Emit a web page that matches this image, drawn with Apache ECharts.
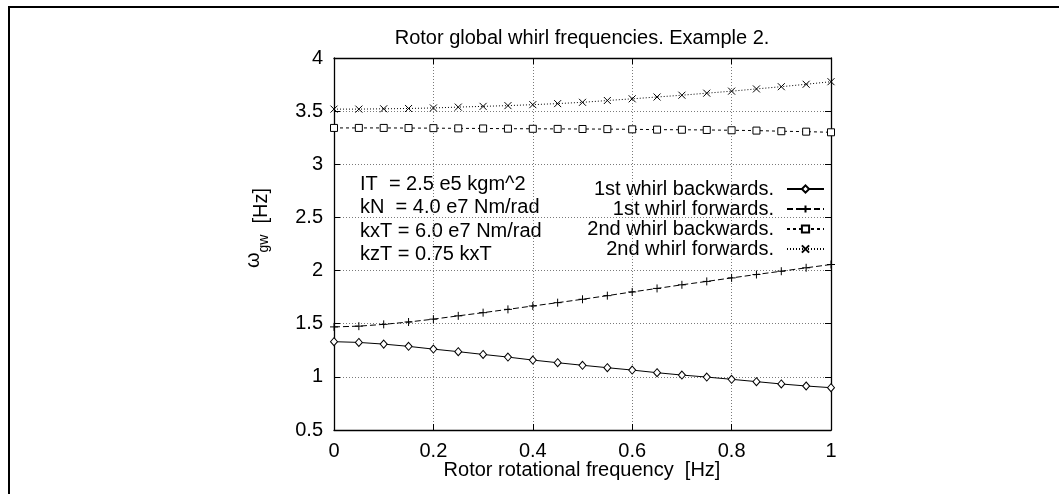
<!DOCTYPE html>
<html>
<head>
<meta charset="utf-8">
<script src="https://cdn.jsdelivr.net/npm/echarts@6/dist/echarts.min.js"></script>
<style>
  html, body { margin: 0; padding: 0; background: #fff; }
  #chart { width: 1059px; height: 494px; }
</style>
</head>
<body>
<div id="chart"></div>
<script>
// Rotor rotational frequency [Hz]
const speeds = [0, 0.05, 0.1, 0.15, 0.2, 0.25, 0.3, 0.35, 0.4, 0.45, 0.5,
                0.55, 0.6, 0.65, 0.7, 0.75, 0.8, 0.85, 0.9, 0.95, 1];

// Global whirl frequencies [Hz]
const firstBackward  = [1.331, 1.324, 1.308, 1.287, 1.261, 1.237, 1.211, 1.186, 1.158, 1.133, 1.109,
                        1.086, 1.064, 1.039, 1.017, 0.998, 0.977, 0.955, 0.933, 0.914, 0.898];
const firstForward   = [1.470, 1.477, 1.494, 1.516, 1.543, 1.574, 1.604, 1.635, 1.667, 1.698, 1.730,
                        1.764, 1.799, 1.832, 1.866, 1.898, 1.931, 1.963, 1.994, 2.026, 2.057];
const secondBackward = [3.342, 3.342, 3.342, 3.341, 3.340, 3.338, 3.337, 3.335, 3.334, 3.333, 3.332,
                        3.331, 3.329, 3.326, 3.325, 3.323, 3.320, 3.317, 3.311, 3.307, 3.301];
const secondForward  = [3.519, 3.519, 3.522, 3.525, 3.530, 3.538, 3.545, 3.552, 3.561, 3.571, 3.583,
                        3.600, 3.616, 3.633, 3.650, 3.669, 3.688, 3.709, 3.730, 3.753, 3.777];

const seriesNames = ['1st whirl backwards.', '1st whirl forwards.', '2nd whirl backwards.', '2nd whirl forwards.'];
const notes = ['IT  = 2.5 e5 kgm^2', 'kN  = 4.0 e7 Nm/rad', 'kxT = 6.0 e7 Nm/rad', 'kzT = 0.75 kxT'];
const titleText = 'Rotor global whirl frequencies. Example 2.';
const xTitle = 'Rotor rotational frequency  [Hz]';

const FONT = '"Liberation Sans", Arial, Helvetica, sans-serif';
const INK = '#000';
const GRID = { left: 334, top: 58, width: 497, height: 372 };

const pairs = arr => speeds.map((x, i) => [x, arr[i]]);

function curve(name, values, symbol, size, dash, hollow) {
  return {
    name, type: 'line', data: pairs(values),
    xAxisIndex: 0, yAxisIndex: 0,
    symbol, symbolSize: size, showSymbol: true,
    lineStyle: { color: INK, width: 1, type: dash },
    itemStyle: { color: hollow ? '#fff' : INK, borderColor: INK, borderWidth: 1 },
    emphasis: { disabled: true },
    z: 3
  };
}

const baseAxis = {
  type: 'value',
  axisLine: { show: true, onZero: false, lineStyle: { color: INK, width: 1.3 } },
  axisTick: { show: true, inside: true, length: 6, lineStyle: { color: INK, width: 1 } },
  axisLabel: { show: false }
};
const gridLine = { show: true, lineStyle: { color: '#7a7a7a', width: 1, type: [1, 2] } };
const tickLabel = { show: true, fontSize: 20, fontFamily: FONT, color: INK };

const chart = echarts.init(document.getElementById('chart'));
chart.setOption({
  animation: false,
  backgroundColor: '#fff',
  grid: GRID,
  xAxis: [
    Object.assign({}, baseAxis, { position: 'bottom', min: 0, max: 1, interval: 0.2,
      axisLabel: Object.assign({}, tickLabel, { margin: 11 }), splitLine: gridLine }),
    Object.assign({}, baseAxis, { position: 'top', min: 0, max: 1, interval: 0.2, splitLine: { show: false } })
  ],
  yAxis: [
    Object.assign({}, baseAxis, { position: 'left', min: 0.5, max: 4, interval: 0.5,
      axisLabel: Object.assign({}, tickLabel, { margin: 11 }), splitLine: gridLine }),
    Object.assign({}, baseAxis, { position: 'right', min: 0.5, max: 4, interval: 0.5, splitLine: { show: false } })
  ],
  legend: {
    data: seriesNames,
    orient: 'vertical',
    align: 'right',
    right: 1059 - 830,
    top: 174,
    itemWidth: 37,
    itemHeight: 9,
    itemGap: 0,
    selectedMode: false,
    textStyle: { fontSize: 20, fontFamily: FONT, color: INK, lineHeight: 20, padding: [0, 8, 0, 0] }
  },
  series: [
    curve(seriesNames[0], firstBackward, 'diamond', [7, 8], 'solid', true),
    curve(seriesNames[1], firstForward, 'path://M0,5L10,5M5,0L5,10', 8, [6, 3], false),
    curve(seriesNames[2], secondBackward, 'rect', 7, [3, 3], true),
    curve(seriesNames[3], secondForward, 'path://M0,0L10,10M10,0L0,10', 7, [1, 2], false)
  ],
  graphic: [
    { type: 'rect', silent: true, z: 0,
      shape: { x: 9, y: 7, width: 1200, height: 700 },
      style: { fill: 'none', stroke: INK, lineWidth: 2 } },
    { type: 'text', silent: true, x: 582, y: 38,
      style: { text: titleText, font: '20px ' + FONT, fill: INK, align: 'center', verticalAlign: 'middle' } },
    { type: 'text', silent: true, x: 582, y: 470,
      style: { text: xTitle, font: '20px ' + FONT, fill: INK, align: 'center', verticalAlign: 'middle' } },
    { type: 'text', silent: true, x: 257, y: 228, rotation: Math.PI / 2,
      style: {
        text: '{w|ω}{s|gw}{h|  [Hz]}', align: 'center', verticalAlign: 'middle', fill: INK,
        rich: {
          w: { fontSize: 20, fontFamily: FONT, lineHeight: 20, verticalAlign: 'top' },
          s: { fontSize: 14, fontFamily: FONT, lineHeight: 16, verticalAlign: 'bottom' },
          h: { fontSize: 20, fontFamily: FONT, lineHeight: 28, verticalAlign: 'bottom' }
        }
      } }
  ].concat(notes.map((t, i) => ({
    type: 'text', silent: true, x: 360, y: 184 + i * 23.5,
    style: { text: t, font: '20px ' + FONT, fill: INK, align: 'left', verticalAlign: 'middle' }
  })))
});
</script>
</body>
</html>
